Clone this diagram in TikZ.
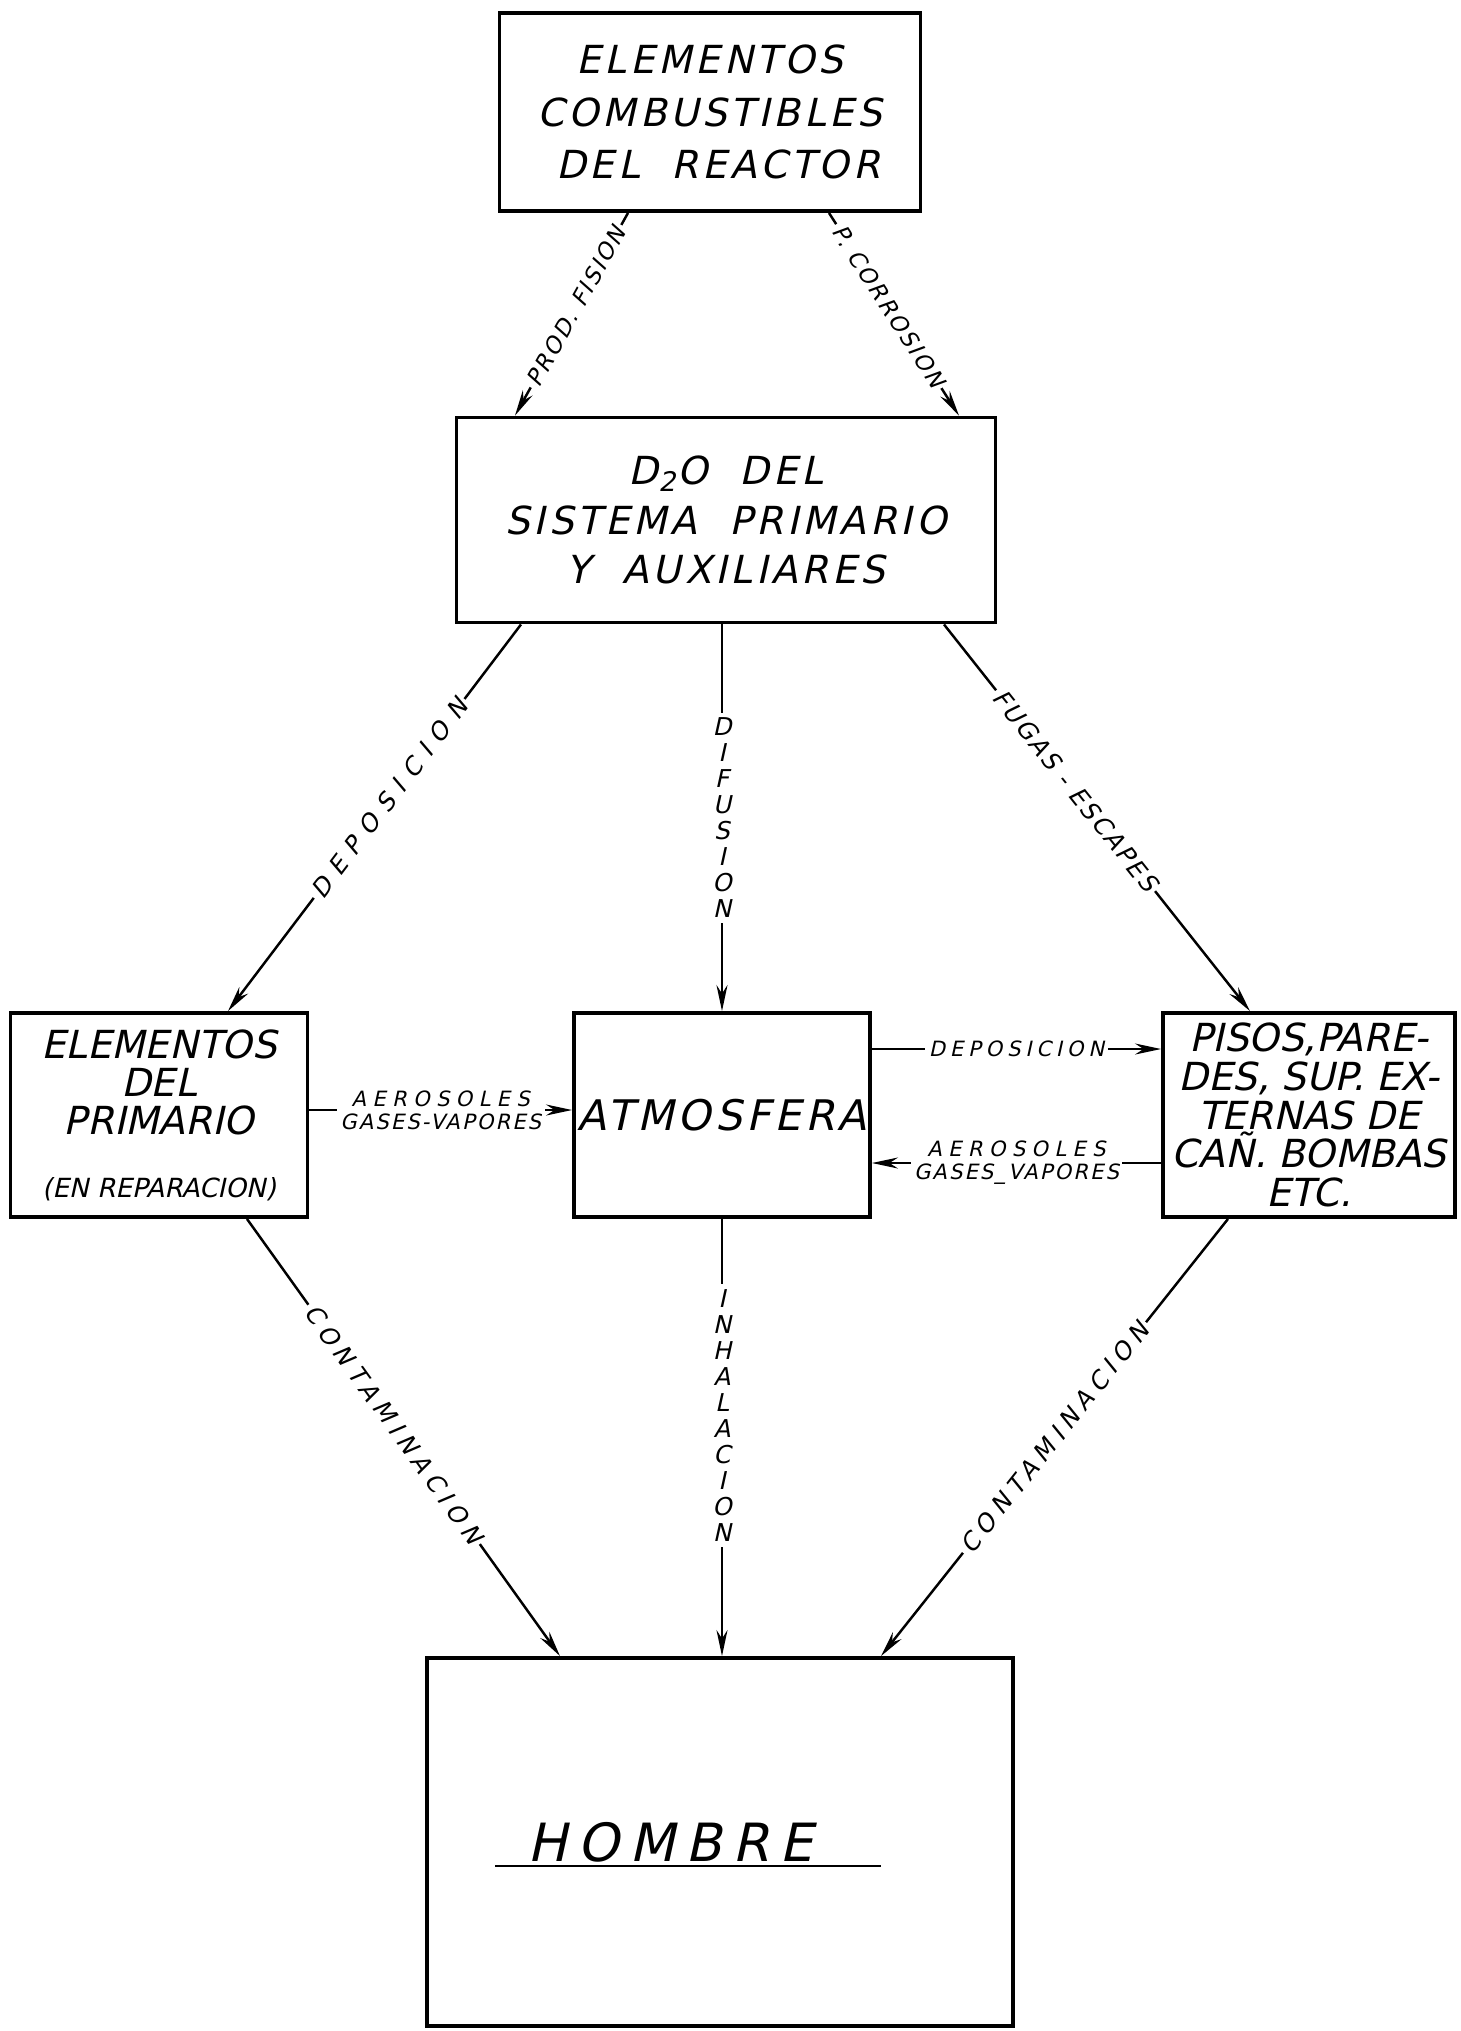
\documentclass[tikz,border=0pt]{standalone}
\usepackage{fontspec}
\setmainfont{DejaVu Sans}[FakeSlant=0.22]
\newfontfamily\boxfont{DejaVu Sans}[FakeSlant=0.22, LetterSpace=10]
\newfontfamily\tagfont{DejaVu Sans}[FakeSlant=0.22]
\newcommand{\ls}[1]{\addfontfeature{LetterSpace=#1}}
\usepackage{tikz}
\usetikzlibrary{arrows.meta}

\begin{document}
\begin{tikzpicture}[blk/.style={draw, line width=1.1pt, inner sep=1pt, align=center},
	flw/.style={line width=0.7pt, -{Stealth[length=2.6mm, width=1.1mm]}},
	tag/.style={fill=white, inner sep=1pt, align=center, font=\tagfont\fontsize{7}{6.6}\selectfont},
	stk/.style={fill=white, inner sep=1.5pt, align=center, font=\tagfont\fontsize{7}{7.4}\selectfont}]
\useasboundingbox (0, 0) rectangle (14.61, -20.31);
\node[blk, minimum width=4.21cm, minimum height=1.98cm, font=\boxfont\fontsize{11}{15}\selectfont] (0) at (7.10, -1.12) {ELEMENTOS\\COMBUSTIBLES\\\ DEL\ \ REACTOR};
\node[blk, minimum width=5.39cm, minimum height=2.05cm, font=\boxfont\fontsize{11}{14}\selectfont] (1) at (7.26, -5.20) {D\textsubscript{2}O\ \ DEL\qquad\\SISTEMA\ \ PRIMARIO\\Y\ \ AUXILIARES};
\node[blk, minimum width=2.97cm, minimum height=2.04cm, font=\tagfont\fontsize{11}{10.8}\selectfont] (2) at (1.59, -11.15) {ELEMENTOS\\DEL\\PRIMARIO\\[2.5mm]{\fontsize{7.5}{9}\selectfont(EN REPARACION)}};
\node[blk, minimum width=2.96cm, minimum height=2.04cm, font=\boxfont\fontsize{12}{14}\selectfont] (3) at (7.22, -11.15) {ATMOSFERA};
\node[blk, minimum width=2.92cm, minimum height=2.04cm, font=\tagfont\fontsize{11}{11}\selectfont] (4) at (13.09, -11.15) {PISOS,PARE-\\DES, SUP. EX-\\TERNAS DE\\CAÑ. BOMBAS\\ETC.};
\node[blk, minimum width=5.86cm, minimum height=3.68cm] (5) at (7.20, -18.42) {};
\node[font=\tagfont\fontsize{15}{18}\selectfont\ls{20}] (6) at (6.70, -18.42) {HOMBRE};
\draw[line width=0.7pt] (4.95, -18.66) to (8.81, -18.66);
\draw[flw] ([xshift=-0.82cm]0.south) to node[tag, sloped, pos=0.46, font=\tagfont\fontsize{6.5}{6.6}\selectfont] {\ls{10}PROD. FISION} ([xshift=-2.11cm]1.north);
\draw[flw] ([xshift=1.19cm]0.south) to node[tag, sloped, pos=0.46, font=\tagfont\fontsize{6.5}{6.6}\selectfont] {\ls{10}P. CORROSION} ([xshift=2.33cm]1.north);
\draw[flw] ([xshift=-2.05cm]1.south) to node[tag, sloped, pos=0.45] {\ls{40}DEPOSICION} ([xshift=0.69cm]2.north);
\draw[flw] (3.north |- 1.south) to node[stk] {D\\I\\F\\U\\S\\I\\O\\N} (3.north);
\draw[flw] ([xshift=2.18cm]1.south) to node[tag, sloped, pos=0.43] {\ls{10}FUGAS - ESCAPES} ([xshift=-0.59cm]4.north);
\draw[flw] ([yshift=0.05cm]2.east) to node[tag, font=\tagfont\fontsize{6}{6.6}\selectfont] {{\ls{30}AEROSOLES}\\{\ls{10}GASES-VAPORES}} ([yshift=0.05cm]3.west);
\draw[flw] ([yshift=0.66cm]3.east) to node[tag, font=\tagfont\fontsize{6}{6.6}\selectfont] {\ls{23}DEPOSICION} ([yshift=0.66cm]4.west);
\draw[flw] ([yshift=-0.48cm]4.west) to node[tag, font=\tagfont\fontsize{6}{6.6}\selectfont] {{\ls{30}AEROSOLES}\\{\ls{10}GASES\_VAPORES}} ([yshift=-0.48cm]3.east);
\draw[flw] ([xshift=0.88cm]2.south) to node[tag, sloped, pos=0.47] {\ls{26}CONTAMINACION} ([xshift=-1.6cm]5.north);
\draw[flw] (3.south) to node[stk, pos=0.45] {I\\N\\H\\A\\L\\A\\C\\I\\O\\N} (3.south |- 5.north);
\draw[flw] ([xshift=-0.81cm]4.south) to node[tag, sloped] {\ls{26}CONTAMINACION} ([xshift=1.61cm]5.north);
\end{tikzpicture}
\end{document}
